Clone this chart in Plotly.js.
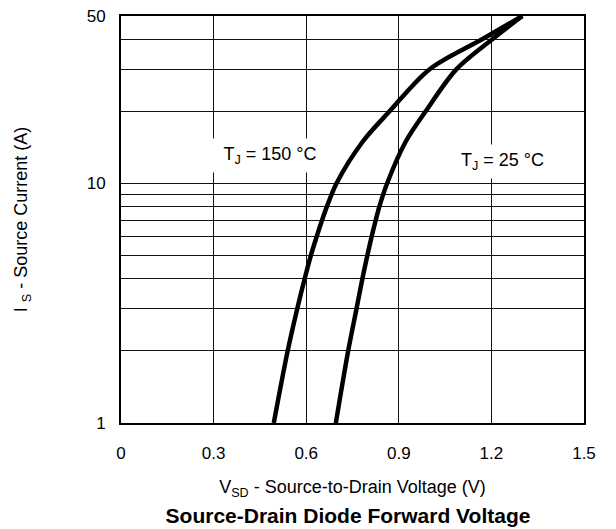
<!DOCTYPE html>
<html>
<head>
<meta charset="utf-8">
<script src="https://cdn.plot.ly/plotly-3.0.1.min.js"></script>
<style>
  html, body { margin: 0; padding: 0; background: #fff; }
  #chart { width: 616px; height: 529px; }
</style>
</head>
<body>
<div id="chart"></div>
<script>
// Source current (A) and source-to-drain voltage (V)
const current150 = [1, 2, 3, 4, 5, 6, 7, 8, 10, 15, 20, 30, 40, 50];
const voltage150 = [0.495, 0.540, 0.571, 0.595, 0.615, 0.634, 0.651, 0.667, 0.698, 0.784, 0.87, 1.0, 1.17, 1.30];
const current25 = [1, 2, 3, 4, 5, 6, 7, 8, 10, 15, 20, 30, 40, 50];
const voltage25 = [0.696, 0.736, 0.763, 0.782, 0.798, 0.812, 0.825, 0.837, 0.862, 0.923, 0.987, 1.087, 1.203, 1.30];

const xTickVals = [0, 0.3, 0.6, 0.9, 1.2, 1.5];
const xTickText = ['0', '0.3', '0.6', '0.9', '1.2', '1.5'];
const yTickVals = [1, 10, 50];
const yTickText = ['1', '10', '50'];
const yMinorVals = [2, 3, 4, 5, 6, 7, 8, 9, 20, 30, 40];

const labels = [
  { text: 'T<sub>J</sub> = 150 °C', v: 0.484, i: 13.1 },
  { text: 'T<sub>J</sub> = 25 °C', v: 1.236, i: 12.4 }
];

const FONT = 'Liberation Sans, Arial, Helvetica, sans-serif';

const lineStyle = { color: '#000', width: 4.5, shape: 'spline', smoothing: 0.9 };

const traces = [
  { x: voltage150, y: current150, mode: 'lines', line: lineStyle, name: 'TJ = 150 °C', hoverinfo: 'x+y' },
  { x: voltage25, y: current25, mode: 'lines', line: lineStyle, name: 'TJ = 25 °C', hoverinfo: 'x+y' }
];

const layout = {
  width: 616,
  height: 529,
  margin: { l: 121, r: 31.5, t: 16, b: 106.3 },
  paper_bgcolor: '#fff',
  plot_bgcolor: '#fff',
  showlegend: false,
  font: { family: FONT, color: '#000', size: 17 },
  title: {
    text: '<b>Source-Drain Diode Forward Voltage</b>',
    font: { family: FONT, size: 21, color: '#000' },
    xref: 'container', yref: 'container',
    x: 348 / 616, xanchor: 'center',
    y: 1 - 516 / 529, yanchor: 'middle'
  },
  xaxis: {
    range: [0, 1.5],
    tickmode: 'array',
    tickvals: xTickVals,
    ticktext: xTickText,
    ticks: '',
    ticklabelstandoff: 14,
    showgrid: true,
    gridcolor: '#111',
    gridwidth: 1,
    zeroline: false,
    showline: true,
    mirror: true,
    linecolor: '#000',
    linewidth: 2,
    tickfont: { family: FONT, size: 17, color: '#000' },
    title: {
      text: 'V<sub>SD</sub> - Source-to-Drain Voltage (V)',
      font: { family: FONT, size: 18, color: '#000' },
      standoff: 18
    },
    automargin: false
  },
  yaxis: {
    type: 'log',
    range: [0, Math.log10(50)],
    tickmode: 'array',
    tickvals: yTickVals,
    ticktext: yTickText,
    ticks: '',
    ticklabelstandoff: 10,
    showgrid: true,
    gridcolor: '#111',
    gridwidth: 1,
    minor: {
      tickmode: 'array',
      tickvals: yMinorVals,
      showgrid: true,
      gridcolor: '#111',
      gridwidth: 1,
      ticks: ''
    },
    zeroline: false,
    showline: true,
    mirror: true,
    linecolor: '#000',
    linewidth: 2,
    tickfont: { family: FONT, size: 17, color: '#000' },
    title: {
      text: 'I <sub>S</sub> - Source Current (A)',
      font: { family: FONT, size: 18, color: '#000' },
      standoff: 54
    },
    automargin: false
  },
  annotations: labels.map((a, k) => ({
    text: a.text,
    x: a.v,
    y: Math.log10(a.i),
    xref: 'x',
    yref: 'y',
    showarrow: false,
    xanchor: 'center',
    yanchor: 'middle',
    bgcolor: '#fff',
    borderpad: 5,
    width: k === 0 ? 112 : null,
    font: { family: FONT, size: 18, color: '#000' }
  }))
};

Plotly.newPlot('chart', traces, layout, { displayModeBar: false, staticPlot: true });
</script>
</body>
</html>
